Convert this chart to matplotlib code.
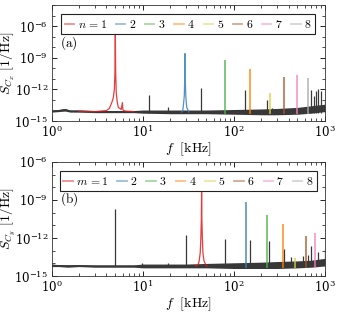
import numpy as np
import matplotlib
matplotlib.use('Agg')
import matplotlib.pyplot as plt
from matplotlib.lines import Line2D
from matplotlib.ticker import LogLocator, NullFormatter

plt.rcParams['mathtext.fontset'] = 'cm'
plt.rcParams['font.family'] = 'serif'
plt.rcParams['font.serif'] = ['DejaVu Serif']

colors = ['#e41a1c', '#377eb8', '#4daf4a', '#ff7f00', '#d8cf45', '#a65628', '#f781bf', '#aaaaaa']
mode_labels_a = [r'$n\,=1$', r'$2$', r'$3$', r'$4$', r'$5$', r'$6$', r'$7$', r'$8$']
mode_labels_b = [r'$m\,=1$', r'$2$', r'$3$', r'$4$', r'$5$', r'$6$', r'$7$', r'$8$']

# ---- panel (a) ----
# noise floor (log10 of S), lower / upper edge of the band
floor_f_a = [1, 1.2, 1.4, 1.6, 1.8, 2, 3, 5, 8, 10, 20, 30, 50, 100, 200, 300, 500, 700, 1000]
floor_lo_a = [-14.15, -14.1, -14.05, -14.15, -14.15, -14.15, -14.2, -14.2, -14.2, -14.25, -14.3, -14.3, -14.3, -14.35, -14.4, -14.4, -14.35, -14.25, -14.1]
floor_hi_a = [-13.95, -13.9, -13.8, -13.95, -13.95, -13.95, -14.0, -14.0, -14.0, -13.95, -13.95, -13.95, -13.95, -13.9, -13.85, -13.8, -13.7, -13.55, -13.4]

# broad resonances (n=1, n=2): frequency [kHz] and log10 S
res1_f_a = [2, 3, 4, 4.3, 4.55, 4.75, 4.88, 4.95, 5.0, 5.05, 5.12, 5.25, 5.4, 5.8, 5.98, 6.05, 6.15, 6.5, 8]
res1_S_a = [-14.1, -14.1, -14.0, -13.8, -13.3, -12.8, -12.0, -10.5, -6.75, -10.5, -12.3, -13.2, -13.7, -13.9, -13.25, -13.9, -14.0, -14.05, -14.1]
res2_f_a = [26.7, 27.5, 27.9, 28.6, 28.9, 29.1, 29.3, 29.7, 30.4, 32.1]
res2_S_a = [-14.15, -14.0, -13.6, -12.6, -11.0, -8.6, -11.0, -12.6, -13.7, -14.15]

# narrow mode peaks n=3..8
modes_f_a = [79.5, 150, 248, 357, 490, 645]
modes_S_a = [-9.24, -10.05, -12.38, -10.85, -10.6, -10.95]

# other (grey) spikes
spikes_f_a = [11.6, 19, 43.5, 134, 229, 260, 430, 707, 760, 805, 850, 905, 990]
spikes_S_a = [-12.48, -13.67, -11.83, -12.06, -12.96, -13.8, -13.9, -12.06, -12.6, -12.16, -12.0, -12.1, -13.0]

# ---- panel (b) ----
floor_f_b = [1, 1.2, 1.5, 2, 3, 5, 8, 10, 20, 30, 50, 100, 200, 300, 500, 700, 1000]
floor_lo_b = [-14.25, -14.25, -14.3, -14.25, -14.3, -14.3, -14.3, -14.35, -14.35, -14.35, -14.35, -14.4, -14.4, -14.4, -14.35, -14.3, -14.2]
floor_hi_b = [-14.05, -14.1, -14.1, -14.1, -14.12, -14.12, -14.12, -14.05, -14.05, -14.05, -14.0, -13.95, -13.9, -13.85, -13.8, -13.75, -13.6]

res1_f_b = [38, 39.7, 41.0, 41.7, 42.8, 43.5, 44.0, 44.3, 44.6, 45.1, 45.8, 47.0, 49.4, 51]
res1_S_b = [-14.2, -14.15, -14.0, -13.78, -13.15, -11.9, -10.5, -8.3, -10.5, -11.9, -13.15, -13.78, -14.15, -14.2]

modes_f_b = [134.5, 231, 343, 468, 620, 777]
modes_S_b = [-9.12, -10.21, -10.9, -13.6, -11.8, -11.6]

spikes_f_b = [4.96, 9.9, 19, 29.6, 79.4, 151, 245, 357, 420, 577, 656, 702, 844, 990]
spikes_S_b = [-9.71, -13.95, -14.0, -11.74, -12.07, -12.18, -12.2, -12.9, -13.5, -13.4, -13.3, -12.6, -13.1, -12.9]


def draw_panel(ax, floor_f, floor_lo, floor_hi, res_list, modes_f, modes_S, spikes_f, spikes_S, ylim):
    ff = np.array(floor_f)
    lo = 10 ** np.array(floor_lo)
    hi = 10 ** np.array(floor_hi)
    mid = np.sqrt(lo * hi)
    ax.fill_between(ff, lo, hi, color='#383838', lw=0, zorder=2)
    ax.plot(ff, mid, color='#383838', lw=0.8, zorder=2)
    for f, s in zip(spikes_f, spikes_S):
        ax.vlines(f, 10 ** -14.2, 10 ** s, color='#383838', lw=0.9, zorder=3)
    for (rf, rs), c in res_list:
        ax.plot(rf, 10 ** np.array(rs), color=c, lw=0.9, alpha=0.85, zorder=4)
    for i, (f, s) in enumerate(zip(modes_f, modes_S)):
        c = colors[i + len(res_list)]
        ax.vlines(f, 10 ** -14.35, 10 ** s, color=c, lw=1.1, alpha=0.9, zorder=4)
    ax.set_xscale('log')
    ax.set_yscale('log')
    ax.set_xlim(1, 1000)
    ax.set_ylim(*ylim)
    ax.set_yticks([1e-15, 1e-12, 1e-9, 1e-6])
    ax.yaxis.set_minor_locator(LogLocator(base=10, subs=[1.0], numticks=20))
    ax.yaxis.set_minor_formatter(NullFormatter())
    ax.xaxis.set_minor_locator(LogLocator(base=10, subs=np.arange(2, 10), numticks=20))
    ax.xaxis.set_minor_formatter(NullFormatter())
    ax.tick_params(which='both', direction='in', top=True, right=True, labelsize=8.5, pad=2.5)
    ax.tick_params(which='major', length=3.5, width=0.6)
    ax.tick_params(which='minor', length=2, width=0.5)
    for sp in ax.spines.values():
        sp.set_linewidth(0.6)
        sp.set_color('#333333')
    ax.set_xlabel(r'$f\ \ [\mathrm{kHz}]$', fontsize=10, labelpad=0)


def add_legend(ax, labels):
    handles = [Line2D([0], [0], color=c, lw=1.3, alpha=0.5) for c in colors]
    leg = ax.legend(handles, labels, ncol=8, loc='upper center', bbox_to_anchor=(0.5, 0.94),
                    fontsize=8.5, handlelength=0.8, handletextpad=0.3, columnspacing=0.75,
                    borderpad=0.3, borderaxespad=0.2, fancybox=False, framealpha=1,
                    edgecolor='#222222')
    leg.get_frame().set_linewidth(0.8)


fig = plt.figure(figsize=(3.42, 3.17), dpi=100)
ax1 = fig.add_axes([0.151, 0.618, 0.799, 0.366])
ax2 = fig.add_axes([0.151, 0.129, 0.799, 0.36])

draw_panel(ax1, floor_f_a, floor_lo_a, floor_hi_a,
           [((res1_f_a, res1_S_a), colors[0]), ((res2_f_a, res2_S_a), colors[1])],
           modes_f_a, modes_S_a, spikes_f_a, spikes_S_a, (1e-15, 1e-4))
draw_panel(ax2, floor_f_b, floor_lo_b, floor_hi_b,
           [((res1_f_b, res1_S_b), colors[0])],
           modes_f_b, modes_S_b, spikes_f_b, spikes_S_b, (1e-15, 1e-6))

ax1.set_ylabel(r'$S_{C_x}\ [1/\mathrm{Hz}]$', fontsize=10)
ax2.set_ylabel(r'$S_{C_y}\ [1/\mathrm{Hz}]$', fontsize=10)
ax1.yaxis.set_label_coords(-0.125, 0.5)
ax2.yaxis.set_label_coords(-0.125, 0.5)
add_legend(ax1, mode_labels_a)
add_legend(ax2, mode_labels_b)
ax1.text(0.03, 0.64, r'$\mathrm{(a)}$', transform=ax1.transAxes, fontsize=9.5)
ax2.text(0.03, 0.64, r'$\mathrm{(b)}$', transform=ax2.transAxes, fontsize=9.5)

fig.savefig('out.png', dpi=100)
